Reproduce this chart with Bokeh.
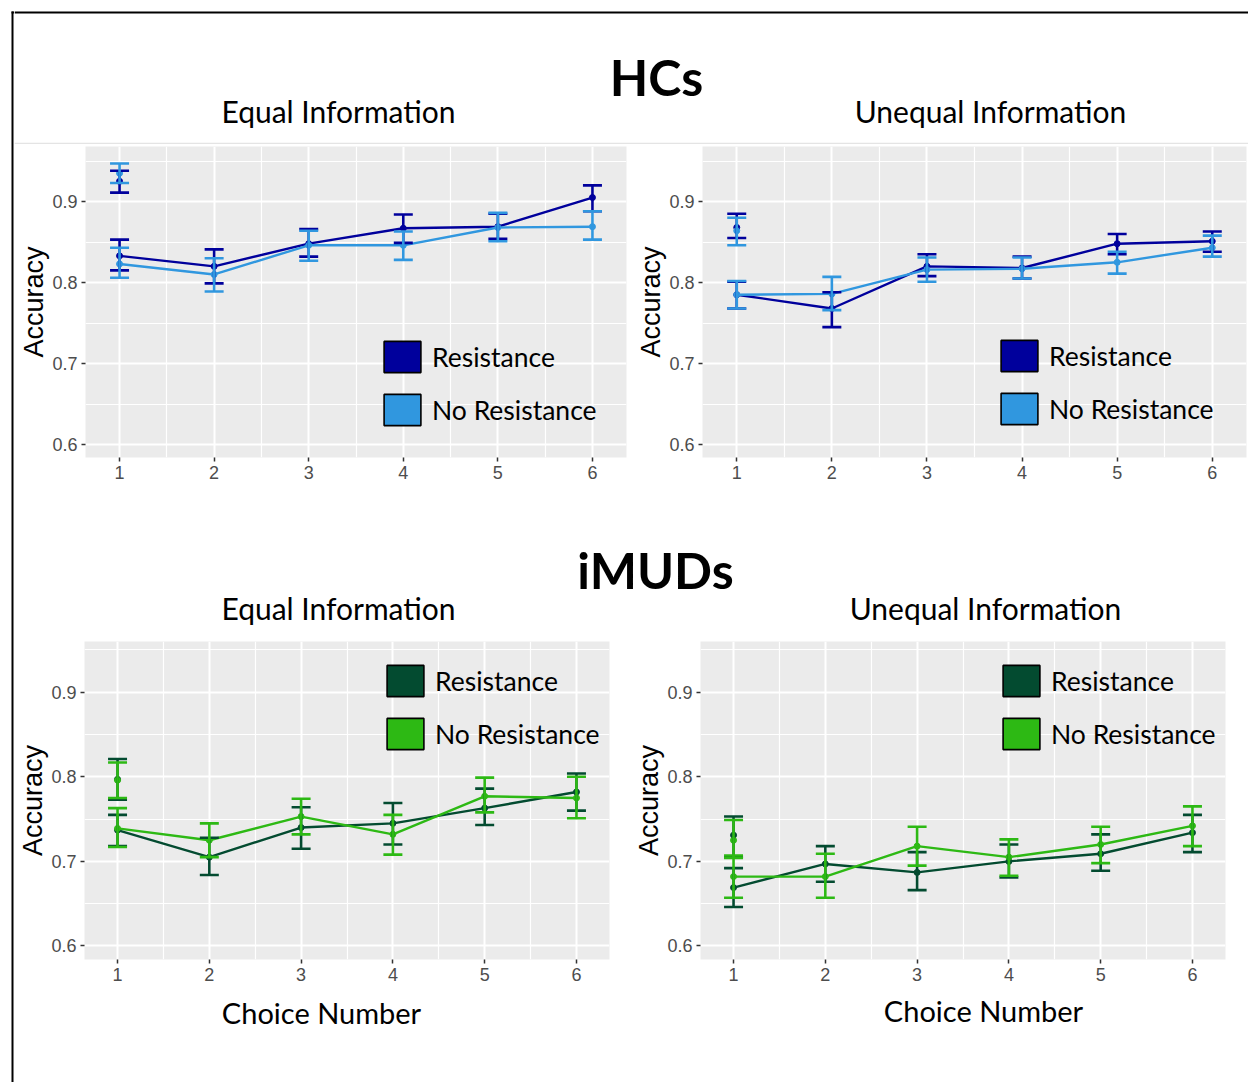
from bokeh.plotting import figure
from bokeh.models import (ColumnDataSource, Whisker, TeeHead, Range1d, FixedTicker,
                          Legend, LegendItem)
from bokeh.layouts import row, column
from bokeh.embed import file_html
from bokeh.resources import INLINE
from bokeh.core.properties import value

# ---------------- data ----------------
choice = [1, 2, 3, 4, 5, 6]
first_x = [1]

# HCs - Equal Information
hc_eq_res = [0.833, 0.820, 0.848, 0.867, 0.869, 0.905]
hc_eq_res_lo = [0.815, 0.799, 0.832, 0.849, 0.854, 0.888]
hc_eq_res_hi = [0.853, 0.841, 0.866, 0.884, 0.885, 0.920]
hc_eq_nores = [0.823, 0.810, 0.846, 0.846, 0.868, 0.869]
hc_eq_nores_lo = [0.806, 0.789, 0.827, 0.828, 0.851, 0.853]
hc_eq_nores_hi = [0.843, 0.830, 0.864, 0.863, 0.886, 0.888]
hc_eq_first_res = [0.925]
hc_eq_first_res_lo = [0.911]
hc_eq_first_res_hi = [0.938]
hc_eq_first_nores = [0.935]
hc_eq_first_nores_lo = [0.923]
hc_eq_first_nores_hi = [0.947]

# HCs - Unequal Information
hc_un_res = [0.785, 0.768, 0.820, 0.818, 0.848, 0.851]
hc_un_res_lo = [0.768, 0.745, 0.808, 0.805, 0.835, 0.838]
hc_un_res_hi = [0.801, 0.788, 0.835, 0.832, 0.860, 0.863]
hc_un_nores = [0.785, 0.786, 0.816, 0.817, 0.825, 0.843]
hc_un_nores_lo = [0.768, 0.766, 0.801, 0.805, 0.811, 0.832]
hc_un_nores_hi = [0.802, 0.807, 0.831, 0.831, 0.838, 0.858]
hc_un_first_res = [0.868]
hc_un_first_res_lo = [0.855]
hc_un_first_res_hi = [0.885]
hc_un_first_nores = [0.864]
hc_un_first_nores_lo = [0.846]
hc_un_first_nores_hi = [0.880]

# iMUDs - Equal Information
mu_eq_res = [0.737, 0.705, 0.740, 0.745, 0.763, 0.782]
mu_eq_res_lo = [0.718, 0.684, 0.715, 0.720, 0.743, 0.760]
mu_eq_res_hi = [0.755, 0.728, 0.764, 0.769, 0.786, 0.804]
mu_eq_nores = [0.739, 0.725, 0.753, 0.732, 0.777, 0.775]
mu_eq_nores_lo = [0.717, 0.705, 0.732, 0.708, 0.758, 0.751]
mu_eq_nores_hi = [0.763, 0.745, 0.774, 0.755, 0.799, 0.800]
mu_eq_first_res = [0.797]
mu_eq_first_res_lo = [0.773]
mu_eq_first_res_hi = [0.821]
mu_eq_first_nores = [0.796]
mu_eq_first_nores_lo = [0.775]
mu_eq_first_nores_hi = [0.817]

# iMUDs - Unequal Information
mu_un_res = [0.669, 0.697, 0.687, 0.700, 0.709, 0.734]
mu_un_res_lo = [0.646, 0.676, 0.666, 0.681, 0.689, 0.711]
mu_un_res_hi = [0.692, 0.718, 0.711, 0.720, 0.732, 0.755]
mu_un_nores = [0.682, 0.682, 0.718, 0.705, 0.720, 0.742]
mu_un_nores_lo = [0.657, 0.657, 0.695, 0.683, 0.698, 0.718]
mu_un_nores_hi = [0.707, 0.709, 0.741, 0.726, 0.741, 0.765]
mu_un_first_res = [0.731]
mu_un_first_res_lo = [0.705]
mu_un_first_res_hi = [0.753]
mu_un_first_nores = [0.725]
mu_un_first_nores_lo = [0.704]
mu_un_first_nores_hi = [0.749]

y_ticks = [0.6, 0.7, 0.8, 0.9]
y_minor = [0.65, 0.75, 0.85, 0.95]
x_minor = [1.5, 2.5, 3.5, 4.5, 5.5]
series_labels = ["Resistance", "No Resistance"]

BLUE_DARK, BLUE_LIGHT = "#00009C", "#3097DF"
GREEN_DARK, GREEN_LIGHT = "#034B30", "#2DB914"

TITLE_FONT = "Lato"
TICK_FONT = "Liberation Sans"
NAN = float("nan")


def add_series(p, y, lo, hi, fy, flo, fhi, color):
    src = ColumnDataSource(dict(x=choice, y=y, lo=lo, hi=hi))
    fsrc = ColumnDataSource(dict(x=first_x, y=fy, lo=flo, hi=fhi))
    p.line("x", "y", source=src, line_color=color, line_width=2.4)
    for s in (src, fsrc):
        w = Whisker(base="x", upper="hi", lower="lo", source=s, level="glyph",
                    line_color=color, line_width=2.6,
                    upper_head=TeeHead(size=19, line_color=color, line_width=2.6),
                    lower_head=TeeHead(size=19, line_color=color, line_width=2.6))
        p.add_layout(w)
        p.scatter("x", "y", source=s, size=6, fill_color=color, line_color=color)


def panel(width, height, bl, br, bt, bb, ytop, data, colors, legend_loc):
    p = figure(width=width, height=height, x_range=Range1d(0.64, 6.36),
               y_range=Range1d(0.584, ytop), output_backend="svg",
               toolbar_location=None, min_border_left=bl, min_border_right=br,
               min_border_top=bt, min_border_bottom=bb)
    p.background_fill_color = "#EBEBEB"
    p.border_fill_color = "white"
    p.outline_line_color = None
    p.xaxis.ticker = FixedTicker(ticks=choice, minor_ticks=x_minor)
    p.yaxis.ticker = FixedTicker(ticks=y_ticks, minor_ticks=y_minor)
    p.grid.grid_line_color = "white"
    p.grid.grid_line_width = 2
    p.grid.minor_grid_line_color = "white"
    p.grid.minor_grid_line_width = 1.2
    for ax in (p.xaxis, p.yaxis):
        ax.axis_line_color = None
        ax.major_tick_line_color = "#333333"
        ax.major_tick_line_width = 1.5
        ax.major_tick_in = 0
        ax.major_tick_out = 4
        ax.minor_tick_line_color = None
        ax.major_label_text_color = "#4D4D4D"
        ax.major_label_text_font = TICK_FONT
        ax.major_label_text_font_size = "18px"
        ax.major_label_standoff = 4
    p.yaxis.axis_label = "Accuracy"
    p.yaxis.axis_label_text_font = TICK_FONT
    p.yaxis.axis_label_text_font_size = "27px"
    p.yaxis.axis_label_text_font_style = "normal"
    p.yaxis.axis_label_text_color = "black"
    p.yaxis.axis_label_standoff = 0

    (r, rlo, rhi, n, nlo, nhi, fr, frlo, frhi, fn, fnlo, fnhi) = data
    add_series(p, r, rlo, rhi, fr, frlo, frhi, colors[0])
    add_series(p, n, nlo, nhi, fn, fnlo, fnhi, colors[1])

    items = []
    for lab, c in zip(series_labels, colors):
        q = p.quad(left=[NAN], right=[NAN], top=[NAN], bottom=[NAN], fill_color=c,
                   line_color="black", line_width=1.6)
        items.append(LegendItem(label=lab, renderers=[q]))
    leg = Legend(items=items, location=legend_loc, glyph_width=46, glyph_height=39,
                 spacing=14, padding=0, margin=0, label_standoff=7,
                 label_text_font=TITLE_FONT, label_text_font_size="26.5px",
                 label_text_color="black",
                 background_fill_alpha=0, border_line_color=None)
    p.add_layout(leg)
    return p


def canvas(width, height, x0, x1, y0, y1):
    c = figure(width=width, height=height, x_range=Range1d(x0, x1),
               y_range=Range1d(y1, y0), output_backend="svg",
               toolbar_location=None, min_border=0,
               x_axis_location=None, y_axis_location=None)
    c.grid.visible = False
    c.outline_line_color = None
    c.background_fill_color = "white"
    c.border_fill_color = "white"
    return c


def put_text(c, x, baseline, txt, size, bold=False):
    # shift so that the rendered alphabetic baseline lands on `baseline`
    y = baseline - (0.42 if bold else 0.37) * size
    c.text(x=[x], y=[y], text=[txt], text_font=value(TITLE_FONT),
           text_font_size=f"{size}px", text_font_style="bold" if bold else "normal",
           text_align="center", text_baseline="alphabetic", text_color="black")


TOTAL_H = 1082
ROW2_END = 989

# left frame strip
strip = canvas(14, TOTAL_H, 0, 14, 0, TOTAL_H)
strip.segment(x0=[12], y0=[11], x1=[12], y1=[TOTAL_H], line_color="black", line_width=2)
strip.segment(x0=[11], y0=[12], x1=[14], y1=[12], line_color="black", line_width=2)

# top header
head1 = canvas(1234, 144, 14, 1248, 0, 144)
head1.segment(x0=[14], y0=[12], x1=[1248], y1=[12], line_color="black", line_width=2)
head1.segment(x0=[14], y0=[143], x1=[1248], y1=[143], line_color="#E4E4E4", line_width=1.5)
put_text(head1, 656, 97, "HCs", 50, bold=True)
put_text(head1, 338, 122, "Equal Information", 30)
put_text(head1, 990, 122, "Unequal Information", 30)

p1 = panel(616, 356, 71, 4, 2, 43, 0.968,
           (hc_eq_res, hc_eq_res_lo, hc_eq_res_hi, hc_eq_nores, hc_eq_nores_lo, hc_eq_nores_hi,
            hc_eq_first_res, hc_eq_first_res_lo, hc_eq_first_res_hi,
            hc_eq_first_nores, hc_eq_first_nores_lo, hc_eq_first_nores_hi),
           (BLUE_DARK, BLUE_LIGHT), (294, 28))
p2 = panel(618, 356, 72, 2, 2, 42, 0.968,
           (hc_un_res, hc_un_res_lo, hc_un_res_hi, hc_un_nores, hc_un_nores_lo, hc_un_nores_hi,
            hc_un_first_res, hc_un_first_res_lo, hc_un_first_res_hi,
            hc_un_first_nores, hc_un_first_nores_lo, hc_un_first_nores_hi),
           (BLUE_DARK, BLUE_LIGHT), (294, 29))

head2 = canvas(1234, 141, 14, 1248, 500, 641)
put_text(head2, 655, 590, "iMUDs", 50, bold=True)
put_text(head2, 338, 619, "Equal Information", 30)
put_text(head2, 985, 619, "Unequal Information", 30)

p3 = panel(616, ROW2_END - 641, 70, 21, 0, ROW2_END - 959, 0.960,
           (mu_eq_res, mu_eq_res_lo, mu_eq_res_hi, mu_eq_nores, mu_eq_nores_lo, mu_eq_nores_hi,
            mu_eq_first_res, mu_eq_first_res_lo, mu_eq_first_res_hi,
            mu_eq_first_nores, mu_eq_first_nores_lo, mu_eq_first_nores_hi),
           (GREEN_DARK, GREEN_LIGHT), (298, 206))
p4 = panel(618, ROW2_END - 641, 70, 23, 0, ROW2_END - 959, 0.960,
           (mu_un_res, mu_un_res_lo, mu_un_res_hi, mu_un_nores, mu_un_nores_lo, mu_un_nores_hi,
            mu_un_first_res, mu_un_first_res_lo, mu_un_first_res_hi,
            mu_un_first_nores, mu_un_first_nores_lo, mu_un_first_nores_hi),
           (GREEN_DARK, GREEN_LIGHT), (298, 206))

foot = canvas(1234, TOTAL_H - ROW2_END, 14, 1248, ROW2_END, TOTAL_H)
put_text(foot, 321, 1023, "Choice Number", 29)
put_text(foot, 983, 1021, "Choice Number", 29)

layout = row(strip, column(head1, row(p1, p2), head2, row(p3, p4), foot))
open("out.html", "w").write(file_html(layout, INLINE))
